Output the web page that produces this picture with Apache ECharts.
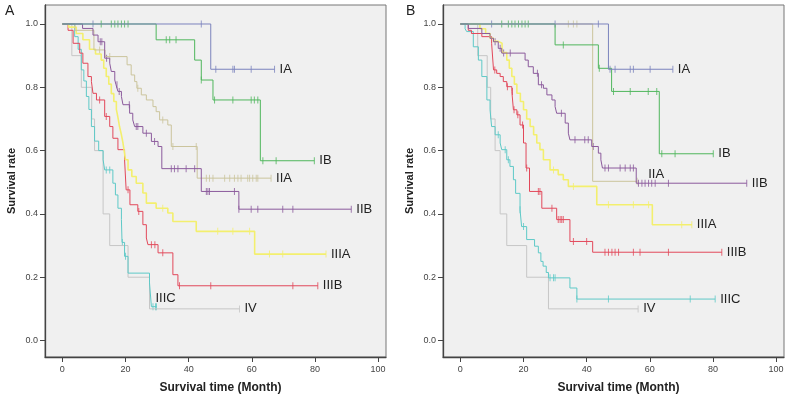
<!DOCTYPE html>
<html>
<head>
<meta charset="utf-8">
<script src="https://cdn.jsdelivr.net/npm/echarts@6/dist/echarts.min.js"></script>
<style>
  html, body { margin: 0; padding: 0; background: #fff; }
  #chart { width: 800px; height: 401px; }
</style>
</head>
<body>
<div id="chart"></div>
<script>
const xTicks = [0, 20, 40, 60, 80, 100];
const yTicks = [0, 0.2, 0.4, 0.6, 0.8, 1.0];

// ---- panel A : step times (t), survival after the step (s), censored times (c)
const aIA_t = [0, 47, 67.2];
const aIA_s = [1, 0.857, 0.857];
const aIA_c = [9.7, 44, 48.6, 54, 54.5, 59.8, 67.2];

const aIB_t = [0, 29.7, 41.9, 44, 47.7, 62.7, 79.8];
const aIB_s = [1, 0.95, 0.886, 0.823, 0.76, 0.568, 0.568];
const aIB_c = [12.3, 15.5, 16.6, 17.6, 18.7, 19.7, 20.8, 32.9, 34, 36, 44, 48.2, 54, 59.8, 60.8, 61.9, 63.5, 67.7, 79.8];

const aIIA_t = [0, 4, 10, 13.5, 20.5, 21.8, 22.9, 23.6, 25, 26.6, 28.7, 29.7, 30.8, 33.4, 34.5, 42.7, 66.1];
const aIIA_s = [1, 0.98, 0.918, 0.897, 0.871, 0.839, 0.818, 0.797, 0.776, 0.76, 0.739, 0.723, 0.697, 0.681, 0.613, 0.513, 0.513];
const aIIA_c = [11.8, 15, 23.9, 31.8, 35, 42.4, 45.6, 46.6, 47.7, 51.4, 53, 54.5, 55.6, 56.6, 58.7, 59.3, 60.3, 61.4, 61.9, 66.1];

const aIIB_t = [0, 6.4, 9.7, 11.3, 13.4, 15, 15.5, 16.6, 17, 17.6, 18.7, 19.2, 21.3, 22.3, 22.9, 25.5, 28.2, 30.3, 31.5, 44, 55.9, 91.5];
const aIIB_s = [1, 0.986, 0.965, 0.944, 0.892, 0.876, 0.85, 0.823, 0.808, 0.787, 0.771, 0.745, 0.718, 0.697, 0.676, 0.655, 0.629, 0.613, 0.543, 0.471, 0.415, 0.415];
const aIIB_c = [12, 12.5, 14, 17.3, 18, 21.2, 23.4, 23.9, 26.6, 29.2, 34.5, 35.5, 36.6, 39.2, 41.9, 45.6, 46.1, 46.6, 54.5, 55.9, 59.8, 61.9, 69.8, 73, 91.5];

const aIIIA_t = [0, 2, 4.4, 6.5, 8.6, 10.5, 12.3, 13.1, 13.9, 14.7, 15.5, 16.3, 17.1, 17.6, 18.1, 18.7, 19.2, 19.6, 20, 20.8, 22, 23.4, 25.5, 26.6, 29.7, 33.4, 35, 42.4, 60.9, 83.5];
const aIIIA_s = [1, 0.99, 0.97, 0.95, 0.92, 0.905, 0.886, 0.86, 0.834, 0.81, 0.78, 0.755, 0.73, 0.705, 0.676, 0.65, 0.624, 0.598, 0.571, 0.539, 0.518, 0.497, 0.466, 0.434, 0.418, 0.403, 0.376, 0.345, 0.273, 0.273];
const aIIIA_c = [31.8, 49.2, 54, 59.3, 65.6, 69.8, 83.5];

const aIIIB_t = [0, 1.8, 3.4, 5.5, 6.5, 8.1, 9.2, 9.7, 10.8, 13.4, 15, 16, 17.6, 19.7, 20.2, 21.4, 23.9, 25.5, 26.6, 27.1, 30.3, 35, 36.6, 80.9];
const aIIIB_s = [1, 0.98, 0.939, 0.908, 0.876, 0.834, 0.818, 0.781, 0.76, 0.708, 0.676, 0.639, 0.603, 0.571, 0.476, 0.429, 0.408, 0.366, 0.324, 0.303, 0.277, 0.208, 0.173, 0.173];
const aIIIB_c = [11.8, 13.9, 20.8, 24.2, 28.2, 29.3, 31.8, 37.1, 47, 73, 80.9];

const aIIIC_t = [0, 3.9, 5, 6, 6.8, 7.6, 8.4, 9.2, 10.2, 11.5, 12.9, 13.4, 16, 16.8, 17.6, 18.7, 18.9, 19.7, 20.8, 27.6, 28.2, 29.8];
const aIIIC_s = [1, 0.96, 0.92, 0.855, 0.82, 0.771, 0.73, 0.676, 0.63, 0.6, 0.571, 0.539, 0.497, 0.46, 0.418, 0.382, 0.31, 0.266, 0.213, 0.182, 0.107, 0.107];
const aIIIC_c = [13.9, 15, 19, 20, 28.7, 29.5, 29.8];

const aIV_t = [0, 3, 6, 9.3, 10.2, 12.9, 15, 20.8, 27.6, 56.1];
const aIV_s = [1, 0.9, 0.8, 0.7, 0.6, 0.4, 0.3, 0.2, 0.1, 0.1];
const aIV_c = [56.1];

// ---- panel B
const bIA_t = [0, 46.9, 67.3];
const bIA_s = [1, 0.857, 0.857];
const bIA_c = [9.9, 30, 43.7, 47.4, 49, 53.8, 54.8, 60.1, 67.3];

const bIB_t = [0, 30, 43.7, 47.9, 63, 80.1];
const bIB_s = [1, 0.934, 0.86, 0.787, 0.59, 0.59];
const bIB_c = [13.1, 15.2, 16.3, 17.3, 18.4, 19.5, 20.5, 21.5, 32.6, 44, 48.5, 53.8, 59.5, 62.2, 63.8, 68, 80.1];

const bIIA_t = [0, 41.9, 56];
const bIIA_s = [1, 0.503, 0.503];
const bIIA_c = [34.2, 35.8, 36.9, 56];

const bIIB_t = [0, 2.5, 6.8, 9.4, 10.5, 12, 13.1, 20.5, 21.5, 23.1, 24.7, 26.3, 27.4, 29, 30, 30.5, 33.2, 34.2, 34.7, 41.6, 43.7, 44.5, 45, 55.7, 90.7];
const bIIB_s = [1, 0.986, 0.97, 0.955, 0.944, 0.923, 0.908, 0.886, 0.865, 0.844, 0.808, 0.797, 0.776, 0.76, 0.739, 0.718, 0.687, 0.655, 0.634, 0.613, 0.592, 0.571, 0.545, 0.497, 0.497];
const bIIB_c = [11, 12.6, 13.7, 15.8, 24.4, 25.7, 32, 36.3, 39.4, 40.5, 42.1, 45.8, 46.9, 50.6, 52.2, 53.8, 54.8, 56.4, 57.5, 58.5, 59.6, 60.6, 61.7, 65.9, 90.7];

const bIIIA_t = [0, 6.2, 8, 9.4, 10.5, 12, 13.2, 14.7, 15.5, 16.3, 17.1, 17.9, 19, 20, 21, 22.1, 23.2, 24.2, 25.2, 26.3, 28.4, 31, 32.6, 34.2, 43.2, 60.8, 73.3];
const bIIIA_s = [1, 0.985, 0.97, 0.955, 0.945, 0.939, 0.91, 0.886, 0.86, 0.834, 0.81, 0.781, 0.755, 0.729, 0.7, 0.676, 0.65, 0.624, 0.603, 0.571, 0.539, 0.524, 0.508, 0.487, 0.429, 0.366, 0.366];
const bIIIA_c = [29.5, 35.8, 46.9, 54.8, 59.6, 70.1, 73.3];

const bIIIB_t = [0, 2.5, 3.5, 6.8, 9.9, 10.5, 11.5, 12.6, 13.6, 14.7, 16.3, 16.8, 17.9, 18.9, 20, 20.8, 21.9, 25.8, 30.5, 34.7, 41.9, 82.8];
const bIIIB_s = [1, 0.98, 0.97, 0.96, 0.939, 0.855, 0.844, 0.834, 0.818, 0.802, 0.787, 0.729, 0.713, 0.681, 0.624, 0.545, 0.471, 0.418, 0.382, 0.313, 0.279, 0.279];
const bIIIB_c = [10.9, 14.9, 16.5, 17, 18.2, 19.7, 21, 24.7, 25.2, 29, 31, 31.6, 32.1, 32.6, 35.8, 40, 45.8, 46.9, 48, 49, 50.1, 54.8, 56.9, 65.9, 82.8];

const bIIIC_t = [0, 1.5, 2, 4.1, 5.7, 6.8, 8.4, 9.4, 9.9, 11, 12.6, 13.1, 14.7, 15.7, 16.8, 17.5, 18.9, 19.4, 21, 23.5, 24.7, 25.5, 26.2, 27.2, 27.9, 34.7, 36.9, 80.7];
const bIIIC_s = [1, 0.985, 0.976, 0.928, 0.886, 0.834, 0.76, 0.729, 0.676, 0.65, 0.624, 0.603, 0.571, 0.55, 0.508, 0.465, 0.413, 0.36, 0.319, 0.298, 0.277, 0.25, 0.235, 0.215, 0.198, 0.166, 0.131, 0.131];
const bIIIC_c = [12, 14.2, 15.2, 18.9, 20, 28.4, 29.5, 30, 36.9, 46.9, 72.8, 80.7];

const bIV_t = [0, 5.5, 8.5, 9.6, 11, 12.6, 14.7, 21, 27.9, 56.3];
const bIV_s = [1, 0.9, 0.8, 0.7, 0.6, 0.4, 0.3, 0.2, 0.1, 0.1];
const bIV_c = [56.3];

const colors = {
  IA: '#7b83bd', IB: '#4fb65c', IIA: '#cbc49c', IIB: '#8b5a9c',
  IIIA: '#f3ef6e', IIIB: '#e2485a', IIIC: '#5ec9c7', IV: '#c6c6c6'
};

// survival value of a step curve at time x
function stepAt(t, s, x) {
  let v = s[0];
  for (let i = 0; i < t.length; i++) {
    if (t[i] <= x) v = s[i];
  }
  return v;
}

function curve(name, t, s, c, gi, offset) {
  const col = colors[name];
  const line = {
    type: 'line', name: name, xAxisIndex: gi, yAxisIndex: gi,
    step: 'end', showSymbol: false, symbol: 'none',
    data: t.map((x, i) => [x, s[i]]),
    lineStyle: { color: col, width: name === 'IIIA' ? 1.6 : 1 },
    itemStyle: { color: col },
    endLabel: {
      show: true, formatter: name, color: '#222', fontSize: 13,
      fontFamily: 'Liberation Sans, Arial, sans-serif',
      distance: 5, offset: offset || [0, 0]
    }
  };
  const marks = {
    type: 'scatter', xAxisIndex: gi, yAxisIndex: gi,
    symbol: 'rect', symbolSize: [1, 7],
    itemStyle: { color: col },
    data: c.map(x => [x, stepAt(t, s, x)])
  };
  return [line, marks];
}

let series = [];
[
  curve('IV', aIV_t, aIV_s, aIV_c, 0),
  curve('IIIC', aIIIC_t, aIIIC_s, aIIIC_c, 0, [-6, -8]),
  curve('IIIB', aIIIB_t, aIIIB_s, aIIIB_c, 0),
  curve('IIIA', aIIIA_t, aIIIA_s, aIIIA_c, 0),
  curve('IIA', aIIA_t, aIIA_s, aIIA_c, 0),
  curve('IIB', aIIB_t, aIIB_s, aIIB_c, 0),
  curve('IB', aIB_t, aIB_s, aIB_c, 0),
  curve('IA', aIA_t, aIA_s, aIA_c, 0),
  curve('IV', bIV_t, bIV_s, bIV_c, 1),
  curve('IIIC', bIIIC_t, bIIIC_s, bIIIC_c, 1),
  curve('IIIB', bIIIB_t, bIIIB_s, bIIIB_c, 1),
  curve('IIIA', bIIIA_t, bIIIA_s, bIIIA_c, 1),
  curve('IIA', bIIA_t, bIIA_s, bIIA_c, 1, [6, -7]),
  curve('IIB', bIIB_t, bIIB_s, bIIB_c, 1),
  curve('IB', bIB_t, bIB_s, bIB_c, 1),
  curve('IA', bIA_t, bIA_s, bIA_c, 1)
].forEach(p => { series = series.concat(p); });

const font = 'Liberation Sans, Arial, sans-serif';

function xAxisFor(gi) {
  return {
    type: 'value', gridIndex: gi, min: -5.5, max: 102.5,
    name: 'Survival time (Month)', nameLocation: 'middle', nameGap: 25,
    nameTextStyle: { fontSize: 12, fontWeight: 'bold', color: '#222', fontFamily: font, padding: [0, 0, 0, 10] },
    axisLine: { onZero: false, lineStyle: { color: '#444', width: 1.3 } },
    axisTick: { show: true, customValues: xTicks, length: 5, lineStyle: { color: '#444' } },
    axisLabel: { customValues: xTicks, fontSize: 9, color: '#444', fontFamily: font, margin: 8 },
    splitLine: { show: false }
  };
}
function yAxisFor(gi) {
  return {
    type: 'value', gridIndex: gi, min: -0.052, max: 1.06,
    name: 'Survival rate', nameLocation: 'middle', nameGap: 28,
    nameTextStyle: { fontSize: 11, fontWeight: 'bold', color: '#222', fontFamily: font },
    axisLine: { show: true, onZero: false, lineStyle: { color: '#444', width: 1.3 } },
    axisTick: { show: true, customValues: yTicks, length: 5, lineStyle: { color: '#444' } },
    axisLabel: { customValues: yTicks, fontSize: 9, color: '#444', fontFamily: font, margin: 7,
      formatter: v => v.toFixed(1) },
    splitLine: { show: false }
  };
}

const chart = echarts.init(document.getElementById('chart'), null, { renderer: 'canvas' });
chart.setOption({
  animation: false,
  backgroundColor: '#fff',
  grid: [
    { left: 45, top: 5, width: 341, height: 352, show: true, backgroundColor: '#f0f0f0', borderColor: '#777', borderWidth: 1 },
    { left: 443, top: 5, width: 341, height: 352, show: true, backgroundColor: '#f0f0f0', borderColor: '#777', borderWidth: 1 }
  ],
  xAxis: [xAxisFor(0), xAxisFor(1)],
  yAxis: [yAxisFor(0), yAxisFor(1)],
  graphic: [
    { type: 'text', left: 5, top: 4, style: { text: 'A', fontSize: 14, fill: '#222', fontFamily: font } },
    { type: 'text', left: 406, top: 4, style: { text: 'B', fontSize: 14, fill: '#222', fontFamily: font } }
  ],
  series: series
});
</script>
</body>
</html>
